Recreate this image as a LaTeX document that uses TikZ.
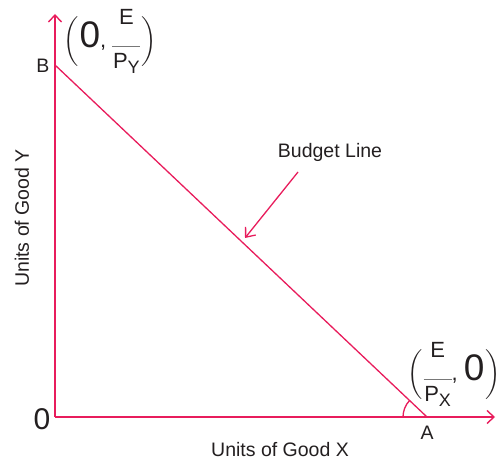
\documentclass[tikz,border=0pt]{standalone}
\usepackage{amsmath}
\usepackage{fontspec}
\setmainfont{Liberation Sans}
\usetikzlibrary{arrows.meta}

\definecolor{budget}{RGB}{232,28,92}
\definecolor{ink}{RGB}{35,31,32}
\definecolor{bar}{RGB}{120,120,120}

\newcommand{\bigzero}{{\fontsize{37}{40}\selectfont 0}}
\newcommand{\subtxt}[1]{\raisebox{-5pt}{\fontsize{18}{19}\selectfont #1}}
\newcommand{\parstrut}{\vrule height 22pt depth 22pt width 0pt}
\newcommand{\lpar}{{\fontsize{20}{22}\selectfont$\left(\parstrut\right.$}}
\newcommand{\rpar}{{\fontsize{20}{22}\selectfont$\left.\parstrut\right)$}}
\newcommand{\share}[1]{$\vcenter{\hbox{\begin{tabular}{@{}c@{}}E\\[-2pt]{\color{bar}\rule{28pt}{1.1pt}}\\[-2pt]P\subtxt{#1}\end{tabular}}}$}

\begin{document}
\begin{tikzpicture}[x=1pt, y=1pt,
  axis/.style={budget, line width=1.4pt, -{Straight Barb[length=7pt, width=13pt, line width=1.4pt]}},
  budgetline/.style={budget, line width=1.3pt},
  pointer/.style={budget, line width=1.3pt, -{Straight Barb[length=8pt, width=13pt, line width=1.3pt]}},
  lbl/.style={ink, font=\fontsize{19.5}{22}\selectfont},
  point/.style={ink, inner sep=0pt, font=\fontsize{22}{24}\selectfont}]
  \useasboundingbox (0,0) rectangle (497,462);

  % Axes
  \coordinate (O) at (55,45);
  \coordinate (Ytip) at (55,448);
  \coordinate (Xtip) at (495,45);
  \draw[axis] (O) -- (Ytip);
  \draw[axis] (O) -- (Xtip);

  % Budget line from B to A
  \coordinate (B) at (55,397);
  \coordinate (A) at (427,45);
  \draw[budgetline] (B) -- (A);

  % Angle at A
  \draw[budgetline] ([shift={(180:24pt)}]A) arc (180:136.6:24pt);

  % Pointer to the line
  \node[lbl] (budgetlbl) at (330,310) {Budget Line};
  \coordinate (tail) at (298,290);
  \coordinate (tip) at (245,224);
  \draw[pointer] (tail) -- (tip);

  % Axis labels
  \node[lbl, rotate=90] (ylbl) at (22,244) {Units of Good Y};
  \node[lbl] (xlbl) at (280,12) {Units of Good X};
  \node[ink, font=\fontsize{30}{32}\selectfont] (zero) at (42,43) {0};
  \node[lbl] (blbl) at (43,396) {B};
  \node[lbl] (albl) at (427,29) {A};

  % Intercepts
  \node[point] (ycut) at (110,420) {\lpar\bigzero, \share{Y}\rpar};
  \node[point] (xcut) at (454,87) {\lpar\share{X}, \bigzero\rpar};
\end{tikzpicture}
\end{document}
